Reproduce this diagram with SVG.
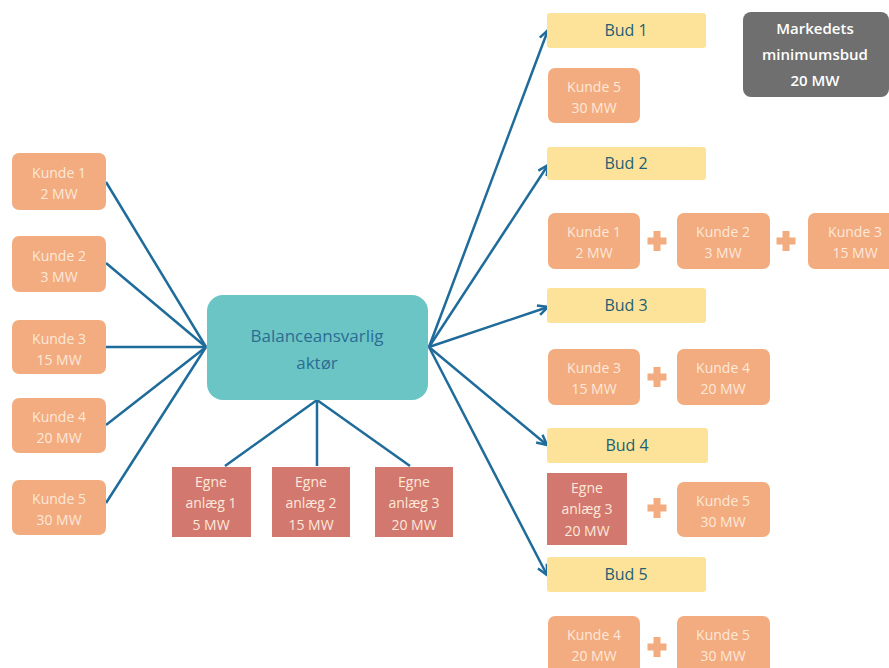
<svg xmlns="http://www.w3.org/2000/svg" width="889" height="668" viewBox="0 0 889 668">
<defs>
<marker id="arr" viewBox="0 0 10 10" refX="9" refY="5" markerWidth="5" markerHeight="5" orient="auto" markerUnits="strokeWidth">
<path d="M1,1 L9,5 L1,9" fill="none" stroke="#1f6b9a" stroke-width="2"/>
</marker>
<path id="plusShape" d="M-3.5,-10 h7 v6.5 h6 v7 h-6 v6.5 h-7 v-6.5 h-6 v-7 h6 z"/>
</defs>
<style>
.k{fill:#f3ac7f}
.e{fill:#d2786e}
.bud{fill:#fde39a}
.t{font-family:"Open Sans","Liberation Sans",sans-serif;font-size:14px;fill:#fde8da;text-anchor:middle}
.bt{font-family:"Open Sans","Liberation Sans",sans-serif;font-size:16px;fill:#235f73;text-anchor:middle}
.mt{font-family:"Open Sans","Liberation Sans",sans-serif;font-size:15px;font-weight:600;fill:#ffffff;text-anchor:middle}
.ln{stroke:#1f6b9a;stroke-width:2.5;fill:none}
.pl{fill:#f3ac7f}
</style>
<rect width="889" height="668" fill="#ffffff"/>
<g id="connectors">
<line class="ln" x1="106" y1="182" x2="206" y2="347"/>
<line class="ln" x1="106" y1="263" x2="206" y2="347"/>
<line class="ln" x1="106" y1="347" x2="206" y2="347"/>
<line class="ln" x1="106" y1="425" x2="206" y2="347"/>
<line class="ln" x1="106" y1="503" x2="206" y2="347"/>
<line class="ln" x1="317" y1="400" x2="225" y2="466"/>
<line class="ln" x1="317" y1="400" x2="317" y2="466"/>
<line class="ln" x1="317" y1="400" x2="410" y2="466"/>
<line class="ln" x1="429" y1="347" x2="548" y2="30" marker-end="url(#arr)"/>
<line class="ln" x1="429" y1="347" x2="548" y2="165" marker-end="url(#arr)"/>
<line class="ln" x1="429" y1="347" x2="548" y2="307" marker-end="url(#arr)"/>
<line class="ln" x1="429" y1="347" x2="547" y2="445" marker-end="url(#arr)"/>
<line class="ln" x1="429" y1="347" x2="547" y2="575" marker-end="url(#arr)"/>
</g>
<g id="center">
<rect x="207" y="295" width="221" height="105" rx="16" fill="#6cc5c5"/>
<text class="bt" x="317" y="342" style="font-size:17px;fill:#2a6d94">Balanceansvarlig</text>
<text class="bt" x="317" y="369" style="font-size:17px;fill:#2a6d94">aktør</text>
</g>
<g id="lk1"><rect class="k" x="12" y="153" width="94" height="57" rx="7"/><text class="t" x="59" y="178">Kunde 1</text><text class="t" x="59" y="199">2 MW</text></g>
<g id="lk2"><rect class="k" x="12" y="236" width="94" height="56" rx="7"/><text class="t" x="59" y="261">Kunde 2</text><text class="t" x="59" y="282">3 MW</text></g>
<g id="lk3"><rect class="k" x="12" y="320" width="94" height="54" rx="7"/><text class="t" x="59" y="344">Kunde 3</text><text class="t" x="59" y="365">15 MW</text></g>
<g id="lk4"><rect class="k" x="12" y="398" width="94" height="55" rx="7"/><text class="t" x="59" y="422">Kunde 4</text><text class="t" x="59" y="443">20 MW</text></g>
<g id="lk5"><rect class="k" x="12" y="480" width="94" height="55" rx="7"/><text class="t" x="59" y="504">Kunde 5</text><text class="t" x="59" y="525">30 MW</text></g>
<g id="e1"><rect class="e" x="172" y="467" width="79" height="70"/><text class="t" x="211" y="487">Egne</text><text class="t" x="211" y="508">anlæg 1</text><text class="t" x="211" y="530">5 MW</text></g>
<g id="e2"><rect class="e" x="272" y="467" width="78" height="70"/><text class="t" x="311" y="487">Egne</text><text class="t" x="311" y="508">anlæg 2</text><text class="t" x="311" y="530">15 MW</text></g>
<g id="e3"><rect class="e" x="375" y="467" width="78" height="70"/><text class="t" x="414" y="487">Egne</text><text class="t" x="414" y="508">anlæg 3</text><text class="t" x="414" y="530">20 MW</text></g>
<g id="bud1"><rect class="bud" x="547" y="13" width="159" height="35" rx="3"/><text class="bt" x="626" y="36">Bud 1</text></g>
<g id="min"><rect x="743" y="12" width="146" height="85" rx="8" fill="#6f6f6f"/><text class="mt" x="815" y="34">Markedets</text><text class="mt" x="815" y="60">minimumsbud</text><text class="mt" x="815" y="86">20 MW</text></g>
<g id="b1k5"><rect class="k" x="548" y="68" width="92" height="55" rx="7"/><text class="t" x="594" y="92">Kunde 5</text><text class="t" x="594" y="113">30 MW</text></g>
<g id="bud2"><rect class="bud" x="547" y="147" width="159" height="33" rx="3"/><text class="bt" x="626" y="169">Bud 2</text></g>
<g id="b2k1"><rect class="k" x="548" y="213" width="92" height="56" rx="7"/><text class="t" x="594" y="237">Kunde 1</text><text class="t" x="594" y="258">2 MW</text></g>
<g id="b2k2"><rect class="k" x="677" y="213" width="93" height="56" rx="7"/><text class="t" x="723" y="237">Kunde 2</text><text class="t" x="723" y="258">3 MW</text></g>
<g id="b2k3"><rect class="k" x="808" y="213" width="95" height="56" rx="7"/><text class="t" x="855" y="237">Kunde 3</text><text class="t" x="855" y="258">15 MW</text></g>
<g id="bud3"><rect class="bud" x="547" y="288" width="159" height="35" rx="3"/><text class="bt" x="626" y="311">Bud 3</text></g>
<g id="b3k3"><rect class="k" x="548" y="349" width="92" height="56" rx="7"/><text class="t" x="594" y="373">Kunde 3</text><text class="t" x="594" y="394">15 MW</text></g>
<g id="b3k4"><rect class="k" x="677" y="349" width="93" height="56" rx="7"/><text class="t" x="723" y="373">Kunde 4</text><text class="t" x="723" y="394">20 MW</text></g>
<g id="bud4"><rect class="bud" x="547" y="428" width="161" height="35" rx="3"/><text class="bt" x="627" y="451">Bud 4</text></g>
<g id="b4e3"><rect class="e" x="547" y="473" width="80" height="72"/><text class="t" x="587" y="493">Egne</text><text class="t" x="587" y="514">anlæg 3</text><text class="t" x="587" y="536">20 MW</text></g>
<g id="b4k5"><rect class="k" x="677" y="482" width="93" height="55" rx="7"/><text class="t" x="723" y="506">Kunde 5</text><text class="t" x="723" y="527">30 MW</text></g>
<g id="bud5"><rect class="bud" x="547" y="557" width="159" height="35" rx="3"/><text class="bt" x="626" y="580">Bud 5</text></g>
<g id="b5k4"><rect class="k" x="548" y="616" width="92" height="60" rx="7"/><text class="t" x="594" y="640">Kunde 4</text><text class="t" x="594" y="661">20 MW</text></g>
<g id="b5k5"><rect class="k" x="677" y="616" width="93" height="60" rx="7"/><text class="t" x="723" y="640">Kunde 5</text><text class="t" x="723" y="661">30 MW</text></g>
<g id="plus">
<use href="#plusShape" class="pl" x="657" y="241"/>
<use href="#plusShape" class="pl" x="786" y="241"/>
<use href="#plusShape" class="pl" x="657" y="377"/>
<use href="#plusShape" class="pl" x="657" y="508"/>
<use href="#plusShape" class="pl" x="657" y="647"/>
</g>
</svg>
